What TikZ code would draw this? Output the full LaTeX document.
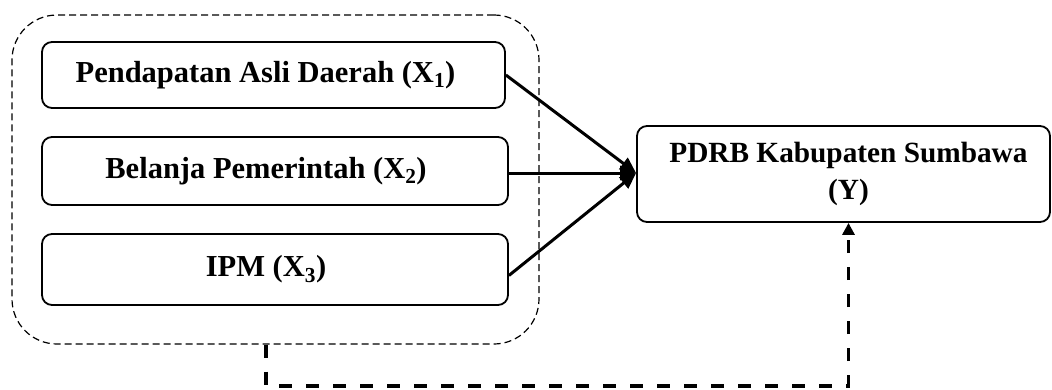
\documentclass[tikz,border=0pt]{standalone}
\usepackage{fontspec}
\setmainfont{Liberation Serif}
\usetikzlibrary{arrows.meta,calc}
\begin{document}
\begin{tikzpicture}[x=1pt,y=-1pt,
  varbox/.style={draw,line width=1.8pt,rounded corners=10pt,inner sep=0pt,align=center,
    font=\fontsize{30.5}{37}\selectfont\bfseries},
  grpbox/.style={draw,line width=1.2pt,dash pattern=on 7pt off 4pt,rounded corners=45pt,inner sep=0pt},
  solidarrow/.style={line width=3pt,-{Triangle[length=16pt,width=14pt]}},
  dasharrow/.style={line width=3.8pt,dash pattern=on 13pt off 14pt,-{Triangle[length=12pt,width=12pt]}}
]
\useasboundingbox (0,0) rectangle (1052,389);
\node[grpbox,minimum width=527pt,minimum height=329pt] (grp) at (275.5,179.5) {};
\node[varbox,fill=white,minimum width=463pt,minimum height=66pt] (b1) at (273.5,75) {Pendapatan Asli Daerah (X\textsubscript{1})\kern16pt};
\node[varbox,fill=white,minimum width=466pt,minimum height=68pt] (b2) at (275,171) {Belanja Pemerintah (X\textsubscript{2})\kern18pt};
\node[varbox,fill=white,minimum width=466pt,minimum height=71pt] (b3) at (275,269.5) {IPM (X\textsubscript{3})\kern18pt};
\node[varbox,font=\fontsize{29.3}{37}\selectfont\bfseries,minimum width=413pt,minimum height=96pt] (yb) at (843.5,174) {\kern10pt PDRB Kabupaten Sumbawa\\\kern10pt(Y)};
\draw[solidarrow] (b1.east) -- ([yshift=1pt]yb.west);
\draw[solidarrow] ([yshift=-2pt]b2.east) -- ([yshift=1pt]yb.west);
\draw[solidarrow] ([yshift=-6pt]b3.east) -- ([yshift=1pt]yb.west);
\draw[dasharrow] ([xshift=-9.5pt]grp.south) -- ++(0,41) -| ([xshift=5pt]yb.south);
\end{tikzpicture}
\end{document}
